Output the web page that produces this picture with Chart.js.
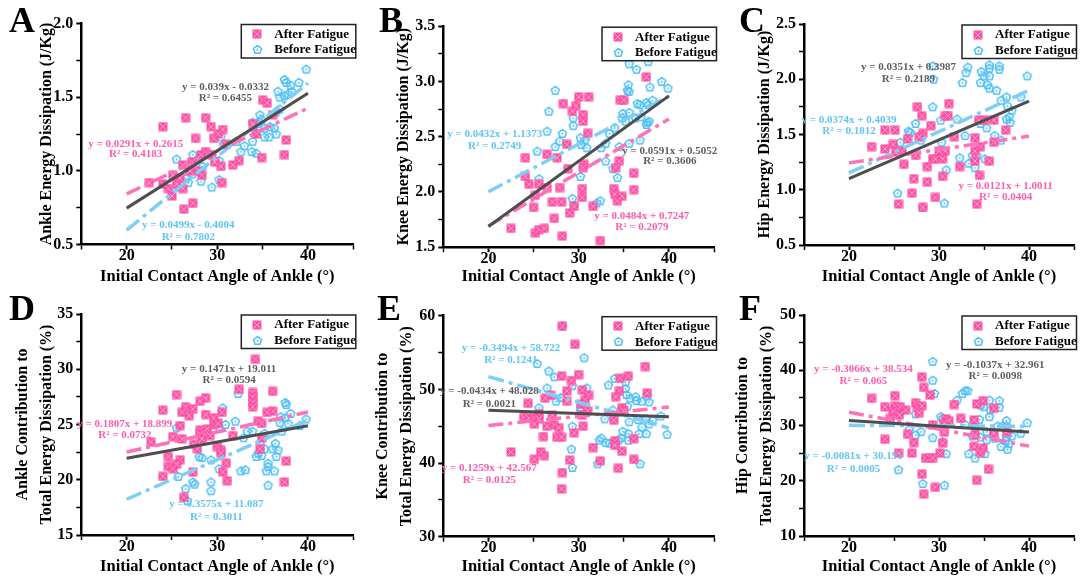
<!DOCTYPE html>
<html>
<head>
<meta charset="utf-8">
<title>Initial contact angle vs energy dissipation</title>
<script src="https://cdn.jsdelivr.net/npm/chart.js@4.4.1/dist/chart.umd.min.js"></script>
<style>
    html, body { margin: 0; padding: 0; background: #fff; }
    #grid { position: relative; width: 1080px; height: 581px; overflow: hidden; }
    .panel { position: absolute; width: 360px; height: 290px; }
    .panel canvas { display: block; }
</style>
</head>
<body>
<div id="grid"></div>
<script>
// ============================================
// ENERGY DISSIPATION vs INITIAL CONTACT ANGLE
// Six scatter panels, before / after fatigue, with linear fits
// ============================================

// ---- A: ankle energy dissipation (J/Kg) ----
const ankleEnergyAfter = [[35.0,1.48],[35.5,1.46],[26.5,1.36],[28.7,1.36],[24.0,1.30],[29.3,1.30],[30.6,1.28],[30.1,1.25],[27.6,1.22],[29.6,1.22],[36.1,1.38],[37.6,1.21],[37.4,1.11],[33.9,1.32],[28.7,1.13],[28.2,1.11],[34.9,1.09],[32.4,1.07],[31.7,1.04],[30.4,1.03],[26.2,1.04],[27.2,1.06],[28.0,1.00],[28.3,0.97],[22.5,0.92],[24.0,0.91],[24.6,0.88],[26.2,0.88],[30.5,0.92],[25.0,0.83],[27.3,0.78],[26.3,0.74],[34.3,1.25],[29.4,1.11],[27.0,1.00],[29.7,1.06],[25.5,0.91],[31.0,1.18],[25.9,0.95],[25.1,0.97]];
const ankleEnergyBefore = [[39.8,1.69],[37.4,1.62],[37.6,1.60],[38.1,1.58],[39.0,1.60],[36.7,1.54],[36.9,1.50],[37.4,1.51],[37.8,1.52],[38.2,1.54],[36.9,1.42],[36.5,1.40],[34.7,1.38],[34.9,1.35],[34.5,1.32],[33.9,1.33],[35.2,1.29],[35.8,1.30],[36.3,1.29],[35.2,1.23],[35.7,1.23],[36.5,1.25],[34.3,1.26],[33.9,1.20],[33.0,1.17],[32.6,1.13],[33.8,1.13],[34.3,1.12],[30.4,1.23],[30.7,1.18],[32.1,1.20],[29.3,1.11],[27.3,1.11],[28.0,1.09],[30.2,1.07],[25.5,1.08],[28.4,1.03],[27.9,1.00],[27.3,0.98],[26.5,0.95],[26.8,0.92],[28.2,0.93],[25.6,0.89],[29.4,0.89],[30.2,0.94]];
const ankleEnergyFits = { after: [0.0291, 0.2615, 0.4183], before: [0.0499, -0.4004, 0.7802], all: [0.039, -0.0332, 0.6455] };

// ---- B: knee energy dissipation (J/Kg) ----
const kneeEnergyAfter = [[37.5,3.04],[30.0,2.86],[31.1,2.86],[28.3,2.80],[29.7,2.78],[29.3,2.73],[30.5,2.70],[30.5,2.64],[34.6,2.83],[35.0,2.83],[31.0,2.53],[28.7,2.43],[24.1,2.31],[27.6,2.31],[26.5,2.34],[34.5,2.28],[30.6,2.25],[28.8,2.21],[34.1,2.22],[36.1,2.17],[24.1,2.14],[24.5,2.07],[25.6,2.07],[26.5,2.04],[27.9,2.04],[30.4,2.03],[33.9,2.03],[36.1,2.02],[34.0,1.98],[34.8,1.96],[34.3,1.92],[30.4,1.95],[27.1,1.91],[28.1,1.91],[25.2,1.97],[25.0,1.86],[29.5,1.87],[31.6,1.87],[29.0,1.81],[27.3,1.76],[22.5,1.67],[25.2,1.63],[25.6,1.66],[26.2,1.67],[28.2,1.60],[32.4,1.56],[30.5,2.22]];
const kneeEnergyBefore = [[35.6,3.16],[37.7,3.18],[36.4,3.11],[37.9,2.95],[39.2,3.00],[39.9,2.94],[35.5,2.97],[35.4,2.92],[35.6,2.91],[27.4,2.92],[36.5,2.80],[36.8,2.79],[37.5,2.81],[37.7,2.79],[38.2,2.83],[34.9,2.71],[35.6,2.72],[34.8,2.67],[35.2,2.64],[36.3,2.67],[36.9,2.68],[37.6,2.63],[37.8,2.64],[37.5,2.61],[26.7,2.73],[29.4,2.67],[29.4,2.60],[34.0,2.58],[33.4,2.53],[26.5,2.55],[28.2,2.53],[27.9,2.46],[27.4,2.41],[30.2,2.49],[30.7,2.47],[30.3,2.43],[30.9,2.40],[32.5,2.40],[33.0,2.44],[25.4,2.37],[34.5,2.41],[35.6,2.44],[36.8,2.47],[33.0,2.28],[30.2,2.14],[33.8,2.21],[34.3,2.13],[25.6,2.12],[29.3,1.94],[29.5,1.88],[32.0,1.90],[32.4,1.92]];
const kneeEnergyFits = { after: [0.0484, 0.7247, 0.2079], before: [0.0432, 1.1373, 0.2749], all: [0.0591, 0.5052, 0.3606] };

// ---- C: hip energy dissipation (J/Kg) ----
const hipEnergyAfter = [[31.1,1.78],[27.6,1.75],[28.1,1.67],[30.7,1.67],[31.0,1.67],[29.1,1.58],[24.0,1.54],[25.1,1.54],[28.2,1.51],[27.8,1.48],[26.5,1.46],[24.9,1.41],[22.5,1.39],[24.0,1.37],[25.9,1.35],[25.2,1.34],[27.4,1.31],[26.1,1.23],[29.3,1.28],[29.6,1.28],[30.4,1.28],[30.7,1.35],[30.0,1.35],[31.7,1.48],[34.0,1.47],[34.6,1.39],[34.0,1.35],[34.0,1.26],[35.6,1.26],[36.1,1.43],[37.4,1.54],[35.1,1.63],[34.4,1.63],[36.1,1.63],[28.7,1.21],[32.3,1.21],[34.5,1.13],[30.4,1.12],[27.2,1.10],[28.7,1.07],[27.0,0.97],[29.6,0.93],[25.5,0.87],[28.2,0.84],[34.2,0.87]];
const hipEnergyBefore = [[29.3,2.12],[29.4,2.00],[33.2,2.11],[33.0,2.06],[32.6,1.97],[34.7,2.07],[35.0,2.03],[34.6,1.97],[35.6,2.13],[35.6,2.10],[35.6,2.03],[36.7,2.12],[36.7,2.09],[35.4,1.95],[35.6,1.92],[36.4,1.90],[39.8,2.03],[37.5,1.84],[36.9,1.81],[37.6,1.76],[38.1,1.72],[39.1,1.84],[37.8,1.66],[37.9,1.61],[37.5,1.64],[35.3,1.56],[34.6,1.60],[36.2,1.49],[36.9,1.45],[32.0,1.64],[30.2,1.63],[29.3,1.75],[27.4,1.60],[26.6,1.53],[26.8,1.52],[25.7,1.43],[28.0,1.45],[30.3,1.43],[32.9,1.49],[30.3,1.36],[32.3,1.29],[33.3,1.24],[33.7,1.31],[34.2,1.31],[34.0,1.20],[35.1,1.28],[30.8,1.18],[25.4,0.97],[28.2,0.84],[30.6,0.88]];
const hipEnergyFits = { after: [0.0121, 1.0011, 0.0404], before: [0.0374, 0.4039, 0.1812], all: [0.0351, 0.3987, 0.2189] };

// ---- D: ankle share of total dissipation (%) ----
const ankleShareAfter = [[34.2,30.9],[32.4,28.2],[25.5,27.7],[36.1,28.0],[33.9,27.9],[33.9,27.5],[33.9,27.0],[33.9,26.6],[28.7,27.4],[28.1,27.1],[26.5,26.6],[27.3,26.4],[24.0,26.3],[26.1,26.1],[26.9,25.8],[28.7,25.9],[30.5,26.1],[29.6,25.6],[36.1,26.2],[35.5,26.1],[29.6,25.0],[30.1,25.1],[34.5,25.3],[34.9,25.1],[25.9,24.9],[28.9,24.6],[28.1,24.5],[28.1,24.1],[25.1,23.9],[26.1,23.7],[31.7,24.0],[29.2,24.0],[34.9,23.8],[22.7,23.4],[27.4,23.2],[27.8,22.8],[30.0,23.0],[30.4,22.7],[30.4,22.4],[34.7,22.8],[24.6,22.1],[25.9,21.8],[25.5,21.4],[24.6,21.2],[25.1,21.0],[31.0,21.5],[37.6,21.7],[30.6,20.7],[27.3,20.7],[24.0,20.3],[31.1,19.9],[37.4,19.8],[26.3,18.4],[28.3,23.7]];
const ankleShareBefore = [[32.3,27.8],[30.6,26.5],[37.5,27.0],[37.6,26.8],[38.1,26.0],[37.0,25.7],[37.5,25.6],[36.9,25.2],[37.8,25.1],[39.8,25.5],[39.1,24.9],[32.0,25.3],[30.9,25.0],[25.5,24.7],[33.3,24.4],[33.9,24.4],[37.1,24.4],[35.2,24.2],[32.9,23.8],[34.7,23.3],[36.4,23.3],[35.2,22.8],[36.1,22.8],[34.5,22.4],[34.9,22.2],[34.3,22.1],[36.7,22.7],[36.5,22.1],[28.0,22.1],[28.3,22.0],[29.3,21.8],[35.6,21.5],[35.6,21.2],[30.2,21.0],[32.6,20.8],[33.1,20.9],[35.4,20.8],[36.3,20.8],[25.7,20.3],[27.3,19.8],[27.5,19.6],[29.3,19.8],[26.5,19.2],[29.3,19.0],[35.6,19.5],[26.7,18.1],[30.2,24.8]];
const ankleShareFits = { after: [0.1807, 18.899, 0.0732], before: [0.3575, 11.087, 0.3011], all: [0.1471, 19.011, 0.0594] };

// ---- E: knee share of total dissipation (%) ----
const kneeShareAfter = [[28.2,58.6],[29.6,56.1],[37.4,53.1],[28.1,51.8],[30.0,52.0],[29.2,51.2],[34.6,51.5],[35.5,51.8],[28.7,49.8],[30.4,49.9],[34.5,49.8],[37.6,49.5],[31.1,49.2],[26.9,49.2],[26.3,48.8],[34.1,49.0],[30.7,48.6],[24.4,48.1],[30.3,48.0],[28.7,48.4],[34.8,47.5],[35.0,47.1],[31.0,47.1],[25.6,46.7],[23.9,46.2],[24.5,46.1],[25.1,46.1],[25.6,46.0],[27.1,46.5],[30.4,46.5],[25.1,45.3],[33.9,45.8],[27.3,45.2],[26.5,45.0],[30.5,45.0],[27.8,44.8],[27.6,43.5],[28.1,43.5],[26.1,43.6],[29.5,44.1],[36.1,43.3],[34.0,43.0],[34.0,42.4],[31.6,42.1],[34.8,41.6],[22.5,41.5],[25.8,41.5],[26.2,41.0],[25.1,40.5],[29.0,40.4],[32.4,40.3],[36.1,40.5],[34.4,39.3],[28.2,38.7],[28.1,36.5]];
const kneeShareBefore = [[28.2,58.6],[30.6,54.3],[25.4,53.5],[26.7,52.5],[27.3,51.7],[34.0,51.5],[35.2,51.0],[33.3,50.6],[30.9,50.2],[26.5,50.2],[29.3,50.5],[35.2,50.1],[35.3,49.3],[35.7,48.8],[36.3,49.0],[36.4,48.5],[37.0,48.4],[37.6,49.1],[37.8,48.3],[27.5,48.4],[28.0,48.9],[25.6,47.5],[30.2,47.6],[30.2,47.1],[33.8,47.2],[35.4,47.7],[32.9,46.0],[33.9,46.2],[35.6,45.6],[36.6,45.9],[37.5,46.0],[38.2,45.8],[39.1,46.4],[37.8,45.3],[29.3,45.0],[37.0,44.9],[34.9,44.3],[35.5,44.0],[36.7,44.0],[37.5,44.0],[39.8,43.9],[34.7,43.4],[34.4,43.1],[35.5,43.1],[32.3,43.1],[32.5,43.4],[33.0,42.8],[33.4,42.7],[29.2,41.9],[32.1,39.9],[36.8,39.9],[29.3,39.4]];
const kneeShareFits = { after: [0.1259, 42.567, 0.0125], before: [-0.3494, 58.722, 0.1241], all: [-0.0434, 48.028, 0.0021] };

// ---- F: hip share of total dissipation (%) ----
const hipShareAfter = [[28.1,38.8],[28.3,36.9],[22.5,34.9],[25.1,35.4],[29.0,35.5],[24.0,33.4],[25.1,33.5],[25.7,33.4],[26.3,32.8],[27.4,34.1],[27.6,33.4],[28.1,33.5],[27.8,32.3],[24.9,32.6],[25.6,31.9],[24.6,31.3],[31.7,33.8],[34.9,34.5],[34.2,33.9],[36.1,33.1],[30.8,31.2],[31.1,30.9],[32.4,31.3],[33.9,31.0],[30.6,30.4],[29.3,30.1],[26.5,28.4],[30.6,28.8],[24.0,27.5],[27.2,26.9],[30.4,26.8],[34.0,28.3],[36.1,28.6],[33.9,26.2],[34.9,25.9],[34.6,25.1],[37.5,28.9],[25.5,25.0],[27.0,25.0],[30.1,25.0],[28.5,24.1],[29.0,24.1],[29.3,24.1],[35.5,22.1],[28.1,21.2],[34.2,20.1],[29.6,18.8],[28.3,17.6]];
const hipShareBefore = [[29.3,41.6],[29.3,38.2],[29.5,35.8],[32.0,34.6],[32.6,35.8],[32.9,36.3],[33.2,36.3],[34.6,33.7],[35.0,33.4],[35.6,34.6],[36.7,34.5],[35.7,32.8],[36.7,33.3],[35.6,31.6],[34.5,31.1],[25.6,32.2],[27.4,32.1],[30.2,31.6],[30.4,31.3],[32.9,30.2],[34.0,29.8],[36.5,29.9],[37.0,29.9],[37.5,30.9],[37.5,29.9],[39.8,30.5],[39.1,28.6],[38.1,28.1],[37.5,28.0],[37.4,27.3],[37.8,26.7],[37.6,25.7],[36.9,26.2],[36.2,27.7],[35.3,27.4],[35.3,28.9],[33.7,28.1],[34.6,27.9],[26.7,29.3],[27.4,28.3],[28.0,28.9],[29.3,27.8],[30.4,27.1],[30.8,24.9],[33.3,24.9],[34.0,24.1],[35.1,24.9],[25.5,22.0],[28.2,19.5],[30.6,19.2]];
const hipShareFits = { after: [-0.3066, 38.534, 0.065], before: [-0.0081, 30.191, 0.0005], all: [-0.1037, 32.961, 0.0098] };

// shared axis settings
const xTickValues = [20, 30, 40];
const fitRange = [20, 40];
const seriesNames = ['After Fatigue', 'Before Fatigue'];
const X_TITLE = 'Initial Contact Angle of Ankle (\u00B0)';

// ---- look ----
const SERIF = '"Liberation Serif", "Times New Roman", serif';
const PINK = '#ff4fa3';
const PINK_LINE = '#ff72b8';
const PINK_TEXT = '#ff5cac';
const BLUE = '#4dbff5';
const BLUE_LINE = '#7dcff6';
const BLUE_TEXT = '#62c5f4';
const GRAY_LINE = '#4e4e4e';
const GRAY_TEXT = '#5e5e5e';
const PANEL_W = 360, PANEL_H = 290;
const PLOT_W = 272, PLOT_H = 221;

const panels = [
    { letter: 'A', col: 0, row: 0, left: 81.3, top: 23.5, letterX: 22, letterY: 23, titleX: 47,
      yMin: 0.5, yMax: 2.0, yStep: 0.25, yMajor: 0.5, yDec: 1,
      yTitle: 'Ankle Energy Dissipation (J/Kg)',
      after: ankleEnergyAfter, before: ankleEnergyBefore, fits: ankleEnergyFits,
      notes: { all: [30.9, 1.57, 1.49], after: [21.0, 1.18, 1.11], before: [26.8, 0.63, 0.55] } },
    { letter: 'B', col: 1, row: 0, left: 83.3, top: 26.2, letterX: 31, letterY: 23, titleX: 44,
      yMin: 1.5, yMax: 3.5, yStep: 0.25, yMajor: 0.5, yDec: 1,
      yTitle: 'Knee Energy Dissipation (J/Kg)',
      after: kneeEnergyAfter, before: kneeEnergyBefore, fits: kneeEnergyFits,
      notes: { all: [40.1, 2.37, 2.28], after: [37.0, 1.78, 1.68], before: [20.7, 2.52, 2.41] } },
    { letter: 'C', col: 2, row: 0, left: 84, top: 24, letterX: 32, letterY: 23, titleX: 45,
      yMin: 0.5, yMax: 2.5, yStep: 0.25, yMajor: 0.5, yDec: 1,
      yTitle: 'Hip Energy Dissipation (J/Kg)',
      after: hipEnergyAfter, before: hipEnergyBefore, fits: hipEnergyFits,
      notes: { all: [26.6, 2.11, 2.00], after: [37.4, 1.03, 0.93], before: [20.0, 1.63, 1.53] } },
    { letter: 'D', col: 0, row: 1, left: 81.3, top: 24, letterX: 22, letterY: 21, titleX: 23,
      yMin: 15, yMax: 35, yStep: 2.5, yMajor: 5, yDec: 0,
      yTitle: ['Ankle Contribution to', 'Total Energy Dissipation (%)'],
      after: ankleShareAfter, before: ankleShareBefore, fits: ankleShareFits,
      notes: { all: [31.3, 30.0, 29.0], after: [19.8, 25.0, 24.0], before: [29.9, 17.75, 16.6] } },
    { letter: 'E', col: 1, row: 1, left: 83.3, top: 25.7, letterX: 29, letterY: 21, titleX: 23,
      yMin: 30, yMax: 60, yStep: 5, yMajor: 10, yDec: 0,
      yTitle: ['Knee Contribution to', 'Total Energy Dissipation (%)'],
      after: kneeShareAfter, before: kneeShareBefore, fits: kneeShareFits,
      notes: { all: [20.1, 49.8, 48.0], after: [20.1, 39.3, 37.7], before: [22.5, 55.6, 54.0] } },
    { letter: 'F', col: 2, row: 1, left: 84, top: 25, letterX: 30, letterY: 21, titleX: 23,
      yMin: 10, yMax: 50, yStep: 5, yMajor: 10, yDec: 0,
      yTitle: ['Hip Contribution to', 'Total Energy Dissipation (%)'],
      after: hipShareAfter, before: hipShareBefore, fits: hipShareFits,
      notes: { all: [36.25, 41.0, 38.9], after: [21.6, 40.2, 38.1], before: [20.5, 24.4, 22.1] } }
];

Chart.defaults.font.family = SERIF;
Chart.defaults.color = '#000';

document.addEventListener('DOMContentLoaded', () => {
    const afterMarker = makeAfterMarker();
    const beforeMarker = makeBeforeMarker();
    const grid = document.getElementById('grid');
    panels.forEach(p => buildPanel(grid, p, afterMarker, beforeMarker));
});

// solid pink square with a faint cross through it
function makeAfterMarker() {
    const c = document.createElement('canvas');
    c.width = 10; c.height = 10;
    const g = c.getContext('2d');
    g.fillStyle = PINK;
    g.fillRect(0.5, 0.5, 9, 9);
    g.strokeStyle = 'rgba(255,255,255,0.55)';
    g.lineWidth = 0.9;
    g.beginPath();
    g.moveTo(1.5, 1.5); g.lineTo(8.5, 8.5);
    g.moveTo(8.5, 1.5); g.lineTo(1.5, 8.5);
    g.stroke();
    return c;
}

// hollow pentagon with a dot in the middle
function makeBeforeMarker() {
    const c = document.createElement('canvas');
    c.width = 11; c.height = 11;
    const g = c.getContext('2d');
    const cx = 5.5, cy = 5.8, r = 4.2;
    g.strokeStyle = BLUE;
    g.lineWidth = 1.5;
    g.beginPath();
    for (let i = 0; i < 5; i++) {
        const a = -Math.PI / 2 + i * 2 * Math.PI / 5;
        const px = cx + r * Math.cos(a), py = cy + r * Math.sin(a);
        if (i === 0) g.moveTo(px, py); else g.lineTo(px, py);
    }
    g.closePath();
    g.stroke();
    g.fillStyle = BLUE;
    g.beginPath();
    g.arc(cx, cy, 1, 0, 2 * Math.PI);
    g.fill();
    return c;
}

function toPoints(rows) {
    return rows.map(([x, y]) => ({ x, y }));
}

function fitLine(fit) {
    const [a, b] = fit;
    return fitRange.map(v => ({ x: v, y: a * v + b }));
}

function eqText(fit) {
    const [a, b] = fit;
    return `y = ${a}x ${b < 0 ? '-' : '+'} ${Math.abs(b)}`;
}

function isMajor(v, step) {
    const k = v / step;
    return Math.abs(k - Math.round(k)) < 1e-6;
}

function buildPanel(grid, p, afterMarker, beforeMarker) {
    const box = document.createElement('div');
    box.className = 'panel';
    box.style.left = (p.col * PANEL_W) + 'px';
    box.style.top = (p.row * PANEL_H) + 'px';
    const canvas = document.createElement('canvas');
    canvas.width = PANEL_W;
    canvas.height = PANEL_H;
    box.appendChild(canvas);
    grid.appendChild(box);

    const twoLine = Array.isArray(p.yTitle);
    const xTitleSize = 16.5;
    const yTitleSize = 16;
    const titleLH = twoLine ? 1.5 : 1.2;
    const tickFont = { family: SERIF, size: 16, weight: 'bold' };

    const fitStyle = (color, dash, width) => ({
        showLine: true, borderColor: color, borderWidth: width, borderDash: dash,
        pointRadius: 0, pointHoverRadius: 0, fill: false
    });

    new Chart(canvas, {
        type: 'scatter',
        data: {
            datasets: [
                Object.assign({ label: 'All', data: fitLine(p.fits.all), order: 0 }, fitStyle(GRAY_LINE, [], 3)),
                Object.assign({ label: 'After fit', data: fitLine(p.fits.after), order: 1 }, fitStyle(PINK_LINE, [15, 5, 4, 5], 3.5)),
                Object.assign({ label: 'Before fit', data: fitLine(p.fits.before), order: 2 }, fitStyle(BLUE_LINE, [16, 5, 4, 5], 3.5)),
                { label: seriesNames[0], data: toPoints(p.after), pointStyle: afterMarker, pointRadius: 5, order: 3 },
                { label: seriesNames[1], data: toPoints(p.before), pointStyle: beforeMarker, pointRadius: 5, order: 4 }
            ]
        },
        options: {
            responsive: false,
            animation: false,
            devicePixelRatio: 1,
            layout: { padding: { left: 0, top: p.top, right: PANEL_W - p.left - PLOT_W, bottom: 0 } },
            plugins: { legend: { display: false }, tooltip: { enabled: false } },
            scales: {
                x: {
                    type: 'linear', min: 15, max: 45,
                    ticks: {
                        stepSize: 5, autoSkip: false, maxRotation: 0, padding: -3,
                        color: '#000', font: tickFont,
                        callback: v => xTickValues.includes(v) ? String(v) : ''
                    },
                    grid: {
                        drawOnChartArea: false, drawTicks: true, tickLength: 5, tickColor: '#000',
                        tickWidth: c => isMajor(c.tick.value, 10) ? 2 : 1.5
                    },
                    border: { display: true, color: '#000', width: 2.5 },
                    title: {
                        display: true, text: X_TITLE, color: '#000',
                        font: { family: SERIF, size: xTitleSize, weight: 'bold', lineHeight: 1.2 },
                        padding: { top: 0, bottom: 3 }
                    },
                    afterFit: s => { s.height = PANEL_H - p.top - PLOT_H; }
                },
                y: {
                    type: 'linear', min: p.yMin, max: p.yMax,
                    ticks: {
                        stepSize: p.yStep, autoSkip: false, padding: 3,
                        color: '#000', font: tickFont,
                        callback: v => isMajor(v, p.yMajor) ? v.toFixed(p.yDec) : ''
                    },
                    grid: {
                        drawOnChartArea: false, drawTicks: true, tickLength: 5, tickColor: '#000',
                        tickWidth: c => isMajor(c.tick.value, p.yMajor) ? 2 : 1.5
                    },
                    border: { display: true, color: '#000', width: 2.5 },
                    title: {
                        display: true, text: p.yTitle, color: '#000',
                        font: { family: SERIF, size: yTitleSize, weight: 'bold', lineHeight: titleLH },
                        padding: { top: p.titleX - yTitleSize * titleLH / 2, bottom: 0 }
                    },
                    afterFit: s => { s.width = p.left; }
                }
            }
        },
        plugins: [makeDecor(p, afterMarker, beforeMarker)]
    });
}

function makeDecor(p, afterMarker, beforeMarker) {
    return {
        id: 'panelDecor',
        afterDatasetsDraw(chart) {
            drawNotes(chart, p);
        },
        afterDraw(chart) {
            drawLegendBox(chart, afterMarker, beforeMarker);
            drawLetter(chart, p);
        }
    };
}

// fit equations and R² next to their lines
function drawNotes(chart, p) {
    const { ctx, scales: { x, y } } = chart;
    const colors = { all: GRAY_TEXT, after: PINK_TEXT, before: BLUE_TEXT };
    ctx.save();
    ctx.font = `bold 11px ${SERIF}`;
    ctx.textAlign = 'center';
    ctx.textBaseline = 'middle';
    ['all', 'after', 'before'].forEach(key => {
        const fit = p.fits[key];
        const [nx, ny1, ny2] = p.notes[key];
        const px = x.getPixelForValue(nx);
        ctx.fillStyle = colors[key];
        ctx.fillText(eqText(fit), px, y.getPixelForValue(ny1));
        ctx.fillText(`R\u00B2 = ${fit[2]}`, px, y.getPixelForValue(ny2));
    });
    ctx.restore();
}

function drawLegendBox(chart, afterMarker, beforeMarker) {
    const { ctx, chartArea } = chart;
    const right = chartArea.right + 2.5;
    const left = right - 114.5;
    const top = chartArea.top + 1;
    const h = 33.5;
    ctx.save();
    ctx.fillStyle = '#fff';
    ctx.fillRect(left, top, right - left, h);
    ctx.strokeStyle = '#222';
    ctx.lineWidth = 1.5;
    ctx.strokeRect(left, top, right - left, h);
    const markers = [afterMarker, beforeMarker];
    ctx.font = `bold 13px ${SERIF}`;
    ctx.fillStyle = '#000';
    ctx.textAlign = 'left';
    ctx.textBaseline = 'middle';
    seriesNames.forEach((name, i) => {
        const rowY = top + 9.5 + i * 15.5;
        const m = markers[i];
        ctx.drawImage(m, Math.round(left + 16 - m.width / 2), Math.round(rowY - m.height / 2));
        ctx.fillText(name, left + 33, rowY + 0.5);
    });
    ctx.restore();
}

function drawLetter(chart, p) {
    const { ctx } = chart;
    ctx.save();
    ctx.font = `bold 36px ${SERIF}`;
    ctx.fillStyle = '#000';
    ctx.textAlign = 'center';
    ctx.textBaseline = 'middle';
    ctx.fillText(p.letter, p.letterX, p.letterY);
    ctx.restore();
}
</script>
</body>
</html>
